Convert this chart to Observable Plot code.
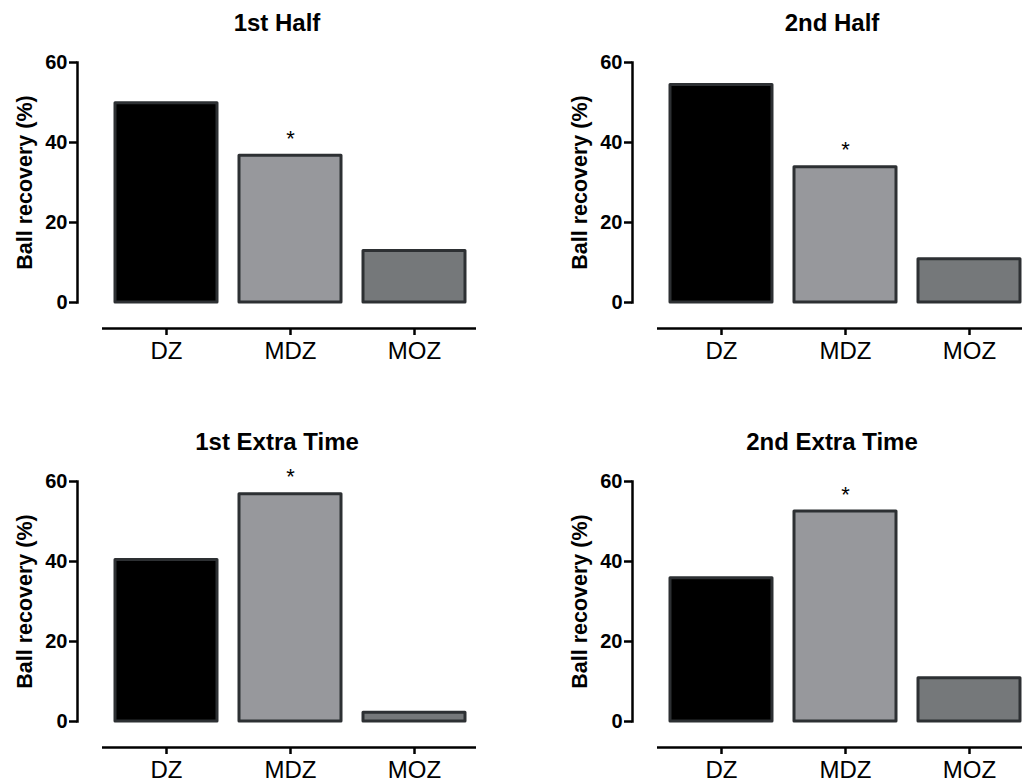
<!DOCTYPE html>
<html><head><meta charset="utf-8">
<script src="https://cdn.jsdelivr.net/npm/d3@7"></script>
<script src="https://cdn.jsdelivr.net/npm/@observablehq/plot@0.6"></script>
<style>
html,body{margin:0;padding:0;background:#fff;overflow:hidden;width:1022px;height:782px;}
#root{position:relative;width:1022px;height:782px;overflow:hidden;}
.panel{position:absolute;width:555px;height:419px;}
.panel svg{display:block;max-width:none !important;}
</style></head><body><div id="root"></div>
<script>
const categories = ["DZ", "MDZ", "MOZ"];
const panelTitles = ["1st Half", "2nd Half", "1st Extra Time", "2nd Extra Time"];
const firstHalf = [49.8, 36.7, 12.9];
const secondHalf = [54.4, 33.8, 10.8];
const firstExtraTime = [40.4, 56.8, 2.2];
const secondExtraTime = [35.8, 52.5, 10.8];
const significant = ["MDZ"];
const yTicks = [0, 20, 40, 60];
const yLabel = "Ball recovery (%)";
const fillColors = ["#000000", "#97989c", "#75787a"];

const series = [firstHalf, secondHalf, firstExtraTime, secondExtraTime];
const W = 555, H = 419;
const root = document.getElementById("root");

series.forEach((vals, k) => {
  const data = categories.map((c, i) => ({category: c, value: vals[i]}));
  const plot = Plot.plot({
    width: W, height: H,
    marginTop: 62, marginBottom: 117, marginLeft: 77, marginRight: 79,
    style: {fontFamily: "'Liberation Sans', Arial, sans-serif", background: "white", color: "black", overflow: "visible", maxWidth: "none"},
    x: {domain: categories, range: [103, 476], paddingInner: 0.18, paddingOuter: 0.09},
    y: {domain: [0, 60]},
    color: {domain: categories, range: fillColors},
    marks: [
      Plot.barY(data, {x: "category", y: "value", fill: "category", stroke: "#2d3033", strokeWidth: 3, strokeLinejoin: "round"}),
      Plot.text(data.filter(d => significant.includes(d.category)), {x: "category", y: "value", text: () => "*", fontSize: 22, lineAnchor: "bottom", dy: -10}),
      Plot.frame({anchor: "left", strokeWidth: 2.5}),
      Plot.axisY(yTicks, {tickSize: 8, tickPadding: 2, strokeWidth: 2.5, fontSize: 20, fontWeight: "bold", label: null}),
      Plot.text([yLabel], {text: d => d, frameAnchor: "left", textAnchor: "middle", lineAnchor: "middle", rotate: -90, dx: -52, fontSize: 21.5, fontWeight: "bold"}),
      Plot.ruleY([0], {dy: 26, insetLeft: 25, strokeWidth: 2.5}),
      Plot.axisX({dy: 26, tickSize: 7, tickPadding: 6, fontSize: 24, strokeWidth: 2.5, label: null}),
      Plot.text([panelTitles[k]], {text: d => d, frameAnchor: "top", lineAnchor: "bottom", dy: -32, fontSize: 24, fontWeight: "bold"})
    ]
  });
  const div = document.createElement("div");
  div.className = "panel";
  div.style.left = (k % 2) * W + "px";
  div.style.top = Math.floor(k / 2) * H + "px";
  div.appendChild(plot);
  root.appendChild(div);
});
</script>
</body></html>
